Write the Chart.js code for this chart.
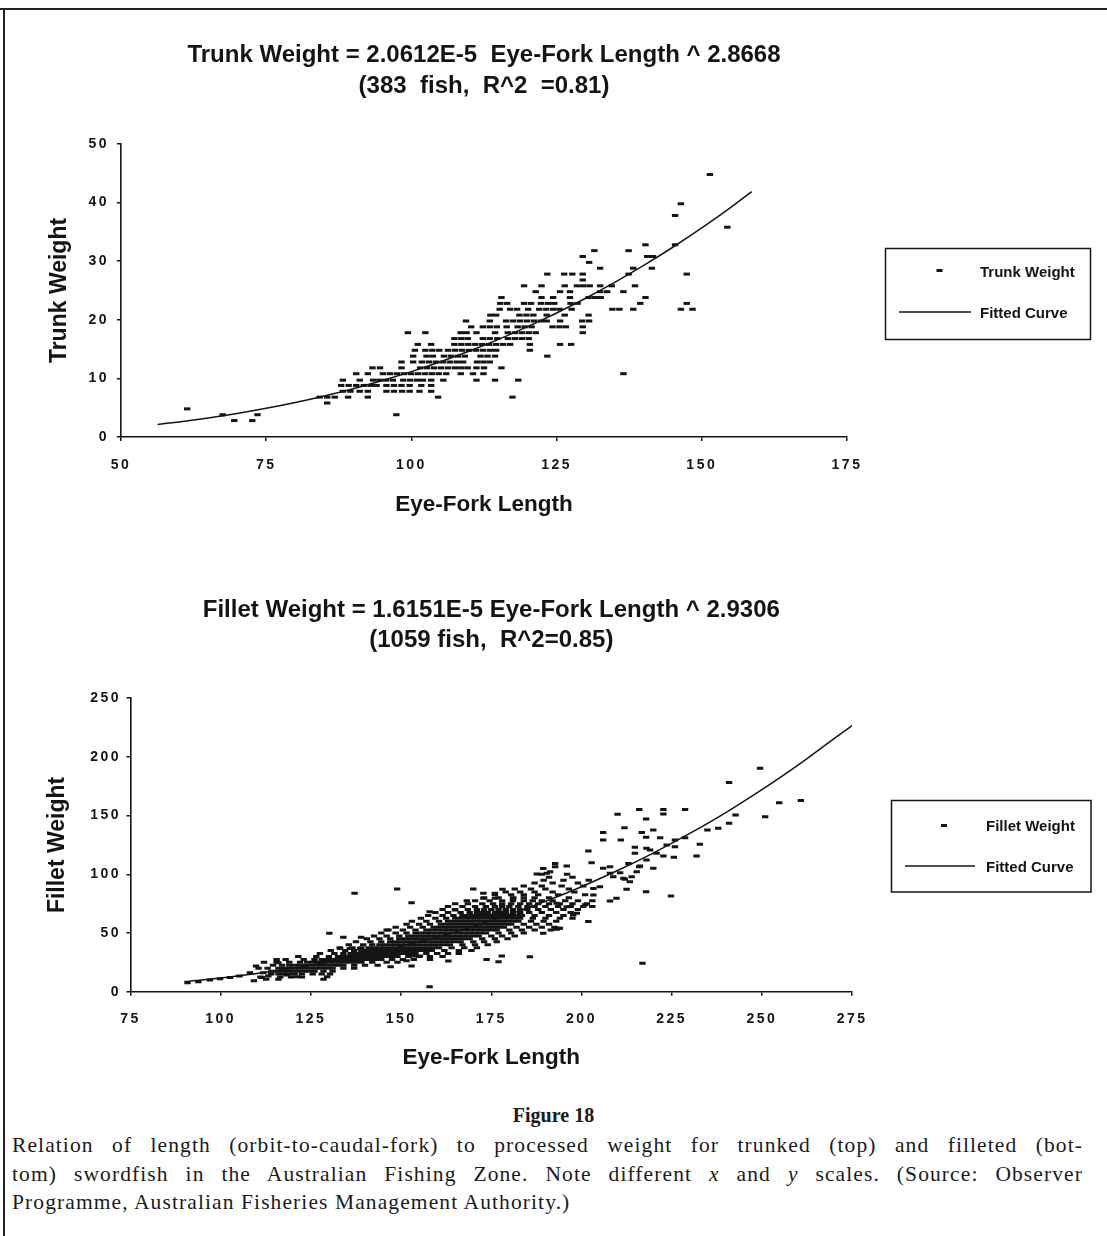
<!DOCTYPE html>
<html><head><meta charset="utf-8">
<script src="https://cdn.jsdelivr.net/npm/chart.js@4.4.1/dist/chart.umd.min.js"></script>
<style>
html,body{margin:0;padding:0;background:#fff;}
body{width:1107px;height:1236px;position:relative;overflow:hidden;}
.frame{position:absolute;background:#222;z-index:5;}
canvas{position:absolute;left:0;}
#c1{top:0;}
#c2{top:560px;}
#fig{position:absolute;left:0;width:1107px;top:1103px;text-align:center;font:bold 20px/24px "Liberation Serif",serif;color:#1a1a1a;}
#cap{position:absolute;left:12px;top:1131px;width:1071px;font:21.5px/28.5px "Liberation Serif",serif;color:#1a1a1a;letter-spacing:1.1px;}
.j{text-align:justify;text-align-last:justify;}
</style></head><body>
<div class="frame" style="left:0;top:8px;width:1107px;height:2px;"></div>
<div class="frame" style="left:3px;top:8px;width:2px;height:1228px;"></div>
<canvas id="c1" width="1107" height="530"></canvas>
<canvas id="c2" width="1107" height="530"></canvas>
<div id="fig">Figure 18</div>
<div id="cap">
<div class="j">Relation of length (orbit-to-caudal-fork) to processed weight for trunked (top) and filleted (bot-</div>
<div class="j">tom) swordfish in the Australian Fishing Zone. Note different <i>x</i> and <i>y</i> scales. (Source: Observer</div>
<div>Programme, Australian Fisheries Management Authority.)</div>
</div>
<script>
// ---------------- DATA: top chart (trunk weight) ----------------
const trunkTitle = ['Trunk Weight = 2.0612E-5  Eye-Fork Length ^ 2.8668', '(383  fish,  R^2  =0.81)'];
const trunkXLabel = 'Eye-Fork Length';
const trunkYLabel = 'Trunk Weight';
const trunkSeriesLabel = 'Trunk Weight';
const curveLabel = 'Fitted Curve';
const trunkXTicks = [50, 75, 100, 125, 150, 175];
const trunkYTicks = [0, 10, 20, 30, 40, 50];
// rows: [weight, [eye-fork lengths of fish at that weight]]
const trunkRows = [
  [2.8, [69.5, 72.6]],
  [3.8, [67.5, 73.5, 97.4]],
  [4.8, [61.4]],
  [5.8, [85.5]],
  [6.8, [84.2, 85.5, 86.8, 89.1, 92.5, 104.6, 117.4]],
  [7.8, [88.2, 89.5, 91.1, 92.5, 95.7, 97, 98.4, 99.7, 101.4, 103.4]],
  [8.8, [87.9, 89.2, 90.5, 91.8, 93, 94, 95.7, 97, 98.3, 99.7, 101.7, 103.4]],
  [9.7, [88.2, 91.1, 93.4, 94.5, 95.6, 96.8, 98.6, 99.8, 101, 102, 103.4, 105.5, 111.2, 114.4, 118.4]],
  [10.8, [90.5, 92.5, 95.1, 96.3, 97.5, 98.7, 99.9, 101.1, 102.3, 103.5, 104.7, 106, 108.5, 110.6, 112.4, 136.5]],
  [11.8, [93.3, 94.6, 98.3, 101.5, 102.7, 103.9, 105.1, 106.3, 107.5, 108.6, 109.7, 111.2, 112.5, 115.5]],
  [12.8, [98.3, 100.3, 101.8, 103, 104.2, 105.4, 106.6, 107.8, 108.9, 111.3, 112.4, 113.5]],
  [13.8, [100.3, 102.6, 103.7, 105.6, 106.8, 108, 109.2, 111.9, 113.1, 114.4, 123.4]],
  [14.8, [100.6, 102.4, 103.6, 104.8, 106.3, 107.5, 108.7, 109.9, 111.1, 112.3, 113.5, 114.6, 120.4]],
  [15.8, [101.1, 103.4, 107.4, 108.6, 109.8, 111, 112.2, 113.4, 114.6, 115.8, 117, 120.4, 125.6, 127.5]],
  [16.8, [107.4, 108.6, 109.7, 112.3, 113.5, 114.8, 116.6, 117.8, 119, 120.2]],
  [17.8, [99.4, 102.4, 108.5, 109.5, 111.2, 114.4, 116.6, 117.8, 119, 120.2, 121.4, 129.5]],
  [18.8, [110.3, 112.3, 113.5, 114.7, 116.4, 118.3, 119.5, 120.7, 124.3, 125.5, 126.6, 129.5]],
  [19.8, [109.4, 113.5, 116.3, 117.5, 118.7, 119.9, 121.1, 122.3, 123.3, 125.6, 129.4, 130.6]],
  [20.8, [113.6, 114.6, 118.6, 119.8, 121, 123.3, 126.4, 130.5]],
  [21.8, [115.2, 117, 118.2, 120.1, 122, 123.2, 124.4, 125.5, 127.6, 134.6, 135.8, 138.2, 146.4, 148.4]],
  [22.8, [115.3, 116.5, 119.4, 120.6, 122.3, 123.5, 124.6, 127.4, 128.6, 139.4, 147.4]],
  [23.8, [115.5, 122.4, 124.4, 127.3, 130.5, 131.6, 132.6, 140.3]],
  [24.8, [121.4, 125.6, 127.3, 132.5, 133.7, 136.5]],
  [25.8, [119.4, 122.4, 126.4, 128.5, 129.6, 130.7, 132.5, 134.5, 138.5]],
  [26.8, [129.5]],
  [27.8, [123.4, 126.3, 127.7, 129.5, 137.4, 147.4]],
  [28.8, [132.5, 138.2, 141.4]],
  [29.8, [130.6]],
  [30.8, [129.5, 140.6, 141.6]],
  [31.8, [131.5, 137.4]],
  [32.8, [140.3, 145.4]],
  [35.8, [154.4]],
  [37.8, [145.4]],
  [39.8, [146.4]],
  [44.8, [151.4]]
];
const trunkCurveL = [56.3, 60, 65, 70, 75, 80, 85, 90, 95, 100, 105, 110, 115, 120, 125, 130, 135, 140, 145, 150, 155, 158.6];
const trunkCurveW = [2.15, 2.58, 3.25, 4.01, 4.89, 5.89, 7.01, 8.25, 9.64, 11.16, 12.84, 14.67, 16.66, 18.83, 21.16, 23.68, 26.39, 29.28, 32.38, 35.68, 39.19, 41.88];

// ---------------- DATA: bottom chart (fillet weight) ----------------
const filletTitle = ['Fillet Weight = 1.6151E-5 Eye-Fork Length ^ 2.9306', '(1059 fish,  R^2=0.85)'];
const filletXLabel = 'Eye-Fork Length';
const filletYLabel = 'Fillet Weight';
const filletSeriesLabel = 'Fillet Weight';
const filletXTicks = [75, 100, 125, 150, 175, 200, 225, 250, 275];
const filletYTicks = [0, 50, 100, 150, 200, 250];
// dense band, rows: [weight, [lengths]]
const filletRows = [
  [12.5, [111, 116.5, 119.5, 122.5]],
  [15, [114, 116, 117.5, 119, 120.5, 122.5, 125.5, 128]],
  [17.5, [114, 115.5, 117, 118.5, 120, 121.5, 123, 124.5, 126, 128.5, 131]],
  [20, [110.5, 113, 116, 117.5, 119, 120.5, 122, 123.5, 125, 126.5, 128, 129.5, 131, 134, 137]],
  [22.5, [114.5, 117, 119, 120.5, 122, 123.5, 125, 126.5, 128, 129.5, 131, 132.5, 134, 137, 140, 143.5]],
  [25, [112, 115.5, 119, 122, 124, 125.5, 127, 128.5, 130, 131.5, 133, 134.5, 136, 137.5, 139, 142, 146, 149]],
  [27.5, [118, 123, 126, 128, 129.5, 131, 132.5, 134, 135.5, 137, 138.5, 140, 141.5, 143, 144.5, 147.5, 150.5, 153.5]],
  [30, [121.5, 126.5, 130, 132.5, 134, 135.5, 137, 138.5, 140, 141.5, 143, 144.5, 146, 147.5, 149, 152, 155, 158, 161.5]],
  [32.5, [127.5, 131.5, 134, 136, 137.5, 139, 140.5, 142, 143.5, 145, 146.5, 148, 149.5, 151, 152.5, 154, 157, 160, 163, 166]],
  [35, [130.5, 134.5, 137, 139, 140.5, 142, 143.5, 145, 146.5, 148, 149.5, 151, 152.5, 154, 155.5, 157, 158.5, 162, 166, 169.5]],
  [37.5, [133, 136.5, 139, 141, 142.5, 144, 145.5, 147, 148.5, 150, 151.5, 153, 154.5, 156, 157.5, 159, 160.5, 164, 167.5, 171]],
  [40, [135.5, 139.5, 142, 144, 145.5, 147, 148.5, 150, 151.5, 153, 154.5, 156, 157.5, 159, 160.5, 162, 163.5, 167, 170.5, 174]],
  [42.5, [137.5, 141.5, 144.5, 147, 148.5, 150, 151.5, 153, 154.5, 156, 157.5, 159, 160.5, 162, 163.5, 165, 166.5, 170, 173, 176.5]],
  [45, [140.5, 144, 147, 149.5, 151, 152.5, 154, 155.5, 157, 158.5, 160, 161.5, 163, 164.5, 166, 167.5, 169, 172.5, 176, 179.5]],
  [47.5, [142.5, 146, 149.5, 152, 153.5, 155, 156.5, 158, 159.5, 161, 162.5, 164, 165.5, 167, 168.5, 170, 171.5, 175, 178, 181.5]],
  [50, [144.5, 148.5, 151.5, 154, 155.5, 157, 158.5, 160, 161.5, 163, 164.5, 166, 167.5, 169, 170.5, 172, 173.5, 177, 180.5, 184]],
  [52.5, [146.5, 150.5, 154, 157, 158.5, 160, 161.5, 163, 164.5, 166, 167.5, 169, 170.5, 172, 173.5, 175, 176.5, 180, 183.5, 187]],
  [55, [148.5, 152.5, 156, 159, 160.5, 162, 163.5, 165, 166.5, 168, 169.5, 171, 172.5, 174, 175.5, 177, 178.5, 182, 185.5, 189, 192.5]],
  [57.5, [151.5, 155, 158, 161, 162.5, 164, 165.5, 167, 168.5, 170, 171.5, 173, 174.5, 176, 177.5, 179, 180.5, 184, 187.5, 191]],
  [60, [153, 157, 160.5, 163, 164.5, 166, 167.5, 169, 170.5, 172, 173.5, 175, 176.5, 178, 179.5, 181, 182.5, 186, 189.5, 193]],
  [62.5, [155.5, 159.5, 162.5, 165, 166.5, 168, 169.5, 171, 172.5, 174, 175.5, 177, 178.5, 180, 181.5, 183, 186.5, 190, 194, 197.5]],
  [65, [157.5, 161.5, 164.5, 167, 168.5, 170, 171.5, 173, 174.5, 176, 177.5, 179, 180.5, 182, 183.5, 187, 191, 195]],
  [67.5, [159.5, 163, 166.5, 169, 171, 172.5, 174, 176, 177.5, 179, 181, 183, 185.5, 189, 193, 197]],
  [70, [161.5, 165, 168.5, 171, 173, 175, 177, 179, 181, 183, 185, 188, 191.5, 195, 199]],
  [72.5, [163, 167, 170.5, 173.5, 176, 178, 180, 182.5, 185, 187, 190, 193.5, 197, 200.5]],
  [75, [165, 168.5, 172.5, 175.5, 178, 180.5, 183, 185.5, 188, 191, 194, 197.5, 201.5]],
  [77.5, [170.5, 174.5, 178, 181, 184, 186.5, 189, 192, 195.5, 199, 203]],
  [80, [173, 177, 181, 184, 187, 191, 196.5]],
  [82.5, [176, 180.5, 184, 188, 193.5, 201]],
  [85, [179, 183, 187, 192, 198]],
  [87.5, [181.5, 186, 190, 196.5]],
  [90, [184, 189, 194.5, 200.5]],
  [92.5, [187, 192, 199]],
  [95, [189.5, 195, 202]],
  [97.5, [191, 197.5]],
  [100, [189, 196]]
];
// scattered fish outside the dense band: [length, weight]
const filletScatter = [
  [90.8, 7.7], [93.8, 8.5], [97, 9.9], [99.8, 11.1], [102.6, 12.2], [105.2, 13.3], [108.1, 16.2],
  [109.8, 21.9], [109.2, 9.4], [111.4, 12.2], [112.6, 10.5], [113.2, 13.3], [111.8, 16.2], [115.5, 27.5],
  [116, 24.7], [116, 10.5], [118.3, 14.2], [121.1, 12.8], [128.5, 10.5], [129.5, 12.8], [130.3, 15],
  [130.1, 49.7], [134, 46.3], [138.9, 46.3], [137.1, 83.8], [133.1, 36.9], [135.8, 36.9], [138.6, 36.9],
  [146, 52.5], [147.1, 21.3], [151.5, 26.4], [152.9, 21.9], [148.9, 87.4], [152.9, 75.8], [157.9, 68.1],
  [164.9, 69.6], [157.9, 4.3], [153.4, 30.4], [155.2, 30.4], [158, 27.5], [163.1, 26.1], [170, 87.4],
  [168.2, 77.5], [172.8, 83.8], [176, 83.8], [178.1, 87.2], [181.1, 79.5], [172.8, 79.5], [176, 79.5],
  [173.7, 27.5], [177, 25.5], [177.9, 30.4], [185.7, 29.8], [189.4, 49.7], [193.1, 53.1], [192.7, 109.3],
  [189.4, 105], [187.6, 100.2], [190.4, 100.8],
  [249.5, 190.3], [240.9, 178.3], [242.7, 150.5], [240.9, 143.4], [237.9, 139.2], [234.9, 137.7],
  [232.8, 125.5], [231.9, 115.6], [228.7, 131.2], [225.9, 129.2], [225.9, 123.5], [223.6, 125],
  [225.6, 114.5], [222.7, 115.6], [228.7, 155.3], [222.7, 155.3], [222.7, 151.4], [216, 155.3],
  [217.9, 147.1], [210, 151.1], [211.9, 139.7], [206, 135.5], [206, 129.2], [210.9, 129.2],
  [216.7, 135.5], [217.9, 131.5], [219.9, 137.7], [221.8, 131.2], [214.8, 123], [214.8, 117.9],
  [218, 122.1], [219, 120.7], [220.8, 117.9], [218, 112.2], [216.2, 107.1], [219.9, 105.1],
  [217.9, 85.2], [224.8, 81.5], [216.9, 24.2], [213, 109.3], [201.9, 119.8], [202.8, 109.9],
  [206, 105.1], [207.9, 106.5], [207.9, 100.8], [210.7, 101.4], [208.8, 98], [211.6, 96.6],
  [213.9, 98], [213.4, 93.7], [215.3, 102.2], [216, 106.5], [212.5, 87.2], [212, 95.7],
  [209.7, 79.5], [207.9, 77.3], [203.3, 82.4], [201.9, 59.7], [201, 74], [203, 72.5],
  [198.7, 66.8], [197.7, 65.3], [195.9, 72.4], [193.1, 75.3], [193.6, 54], [191.5, 52.5], [194, 54],
  [192.7, 106.5], [195.9, 107.1], [191.3, 102.2], [205.1, 89.5], [203.3, 88],
  [254.8, 161], [260.8, 162.8], [250.9, 149.1]
];
const filletCurveL = [90, 100, 110, 120, 130, 140, 150, 160, 170, 180, 190, 200, 210, 220, 230, 240, 250, 260, 270, 276.5];
const filletCurveW = [8.62, 11.73, 15.52, 20.02, 25.31, 31.45, 38.5, 46.53, 55.56, 65.7, 76.99, 89.45, 103.2, 118.3, 134.8, 152.6, 172.1, 193, 215.6, 230];

// ---------------- rendering ----------------
Chart.defaults.font.family = '"Liberation Sans", Arial, sans-serif';
Chart.defaults.color = '#111';

const INK = '#141414';

const tickSpacing = {
  id: 'tickSpacing',
  beforeDraw(chart) {
    Object.values(chart.scales).forEach(s => {
      if (s._spaced) return;
      const orig = s.drawLabels.bind(s);
      s.drawLabels = function (area) {
        const c = this.ctx; c.save(); c.letterSpacing = '2.5px'; orig(area); c.restore();
      };
      s._spaced = true;
    });
  }
};

const boxLegend = {
  id: 'boxLegend',
  afterDraw(chart, args, o) {
    const ctx = chart.ctx;
    ctx.save();
    ctx.strokeStyle = INK; ctx.lineWidth = 1.5;
    ctx.strokeRect(o.box[0], o.box[1], o.box[2], o.box[3]);
    ctx.font = 'bold 15px "Liberation Sans", Arial, sans-serif';
    ctx.fillStyle = INK; ctx.textBaseline = 'middle'; ctx.textAlign = 'left';
    chart.data.datasets.forEach((ds, i) => {
      const it = o.items[i];
      ctx.beginPath();
      if (ds.showLine) { ctx.lineWidth = 1.4; ctx.moveTo(o.lineX[0], it[0]); ctx.lineTo(o.lineX[1], it[0]); }
      else { ctx.lineWidth = 3; ctx.moveTo(o.markX - 3, it[0]); ctx.lineTo(o.markX + 3, it[0]); }
      ctx.stroke();
      ctx.fillText(ds.label, o.textX, it[1]);
    });
    ctx.restore();
  }
};

function rowsToPoints(rows) {
  const pts = [];
  rows.forEach(([w, ls]) => ls.forEach(l => pts.push({x: l, y: w})));
  return pts;
}

function axis(ticksArr, fit, titleText, titleFont, titlePad, tickPad, isX) {
  return {
    type: 'linear',
    min: ticksArr[0], max: ticksArr[ticksArr.length - 1],
    afterBuildTicks: s => { s.ticks = ticksArr.map(v => ({value: v})); },
    afterFit: s => { if (isX) s.height = fit; else s.width = fit; },
    border: {display: true, color: INK, width: 1.6},
    grid: {display: true, drawOnChartArea: false, drawTicks: true, tickLength: 4, color: INK, lineWidth: 1.5},
    ticks: {padding: tickPad, color: INK, font: {size: 14, weight: 'bold'}, maxRotation: 0, autoSkip: false},
    title: {display: true, text: titleText, color: INK, font: {size: titleFont, weight: 'bold'}, padding: titlePad}
  };
}

function makeChart(id, cfg) {
  return new Chart(document.getElementById(id), {
    type: 'scatter',
    data: {
      datasets: [
        {label: cfg.seriesLabel, data: cfg.points, pointStyle: 'line', pointRadius: 3.2, pointHoverRadius: 3.2,
         borderColor: INK, backgroundColor: INK, pointBorderWidth: 3, showLine: false},
        {label: curveLabel, data: cfg.curve, showLine: true, pointRadius: 0, borderColor: INK, borderWidth: 1.5,
         cubicInterpolationMode: 'monotone', fill: false}
      ]
    },
    options: {
      responsive: false, animation: false, devicePixelRatio: 1,
      layout: {padding: cfg.padding},
      plugins: {
        legend: {display: false},
        tooltip: {enabled: false},
        title: {display: true, fullSize: false, text: cfg.title, color: INK,
                font: {size: 24, weight: 'bold', lineHeight: cfg.titleLH}, padding: cfg.titlePad},
        boxLegend: cfg.legend
      },
      scales: {
        x: axis(cfg.xTicks, cfg.xFit, cfg.xLabel, 22.5, {top: 0, bottom: cfg.xTitlePadB}, cfg.xTickPad, true),
        y: axis(cfg.yTicks, cfg.yFit, cfg.yLabel, 23, {top: cfg.yTitlePadT, bottom: 0}, cfg.yTickPad, false)
      }
    },
    plugins: [tickSpacing, boxLegend]
  });
}

makeChart('c1', {
  seriesLabel: trunkSeriesLabel,
  points: rowsToPoints(trunkRows),
  curve: trunkCurveL.map((l, i) => ({x: l, y: trunkCurveW[i]})),
  title: trunkTitle, titleLH: 31 / 24, titlePad: {top: 39.5, bottom: 42.5},
  padding: {left: 0, right: 260, top: 0, bottom: 10},
  xTicks: trunkXTicks, yTicks: trunkYTicks,
  xLabel: trunkXLabel, yLabel: trunkYLabel,
  xFit: 83, yFit: 121, xTitlePadB: 2, yTitlePadT: 46, xTickPad: 16, yTickPad: 8,
  legend: {box: [885.5, 248.5, 205, 91], markX: 939.5, lineX: [899, 971], textX: 980, items: [[270.5, 273], [312, 314]]}
});

makeChart('c2', {
  seriesLabel: filletSeriesLabel,
  points: rowsToPoints(filletRows).concat(filletScatter.map(([l, w]) => ({x: l, y: w}))),
  curve: filletCurveL.map((l, i) => ({x: l, y: filletCurveW[i]})),
  title: filletTitle, titleLH: 30 / 24, titlePad: {top: 35, bottom: 43.2},
  padding: {left: 0, right: 254.9, top: 0, bottom: 16.8},
  xTicks: filletXTicks, yTicks: filletYTicks,
  xLabel: filletXLabel, yLabel: filletYLabel,
  xFit: 81.5, yFit: 130.5, xTitlePadB: 2, yTitlePadT: 44, xTickPad: 15.5, yTickPad: 5.5,
  legend: {box: [891.5, 240.5, 199.5, 91.5], markX: 944, lineX: [905, 975], textX: 986, items: [[265.5, 266.5], [306, 307.5]]}
});
</script>
</body></html>
